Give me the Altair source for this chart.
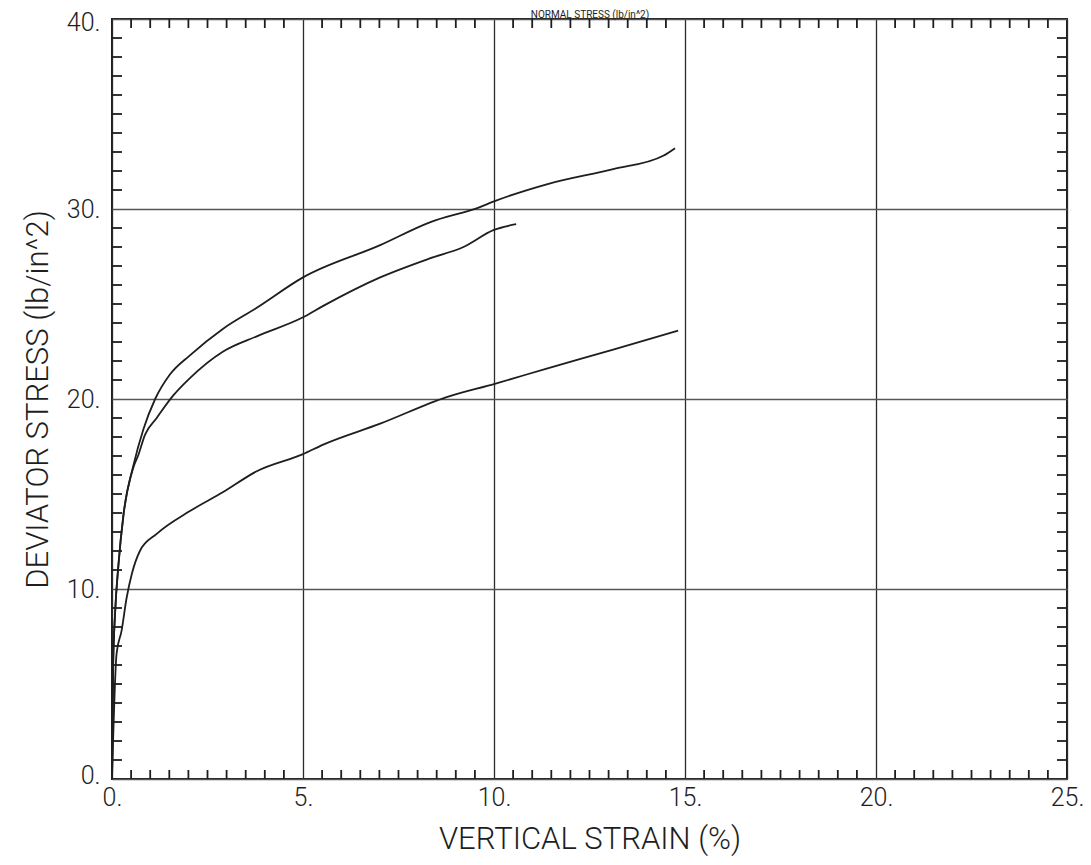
import altair as alt
import pandas as pd

# ---- data ----
upper_x = [0.0, 0.03, 0.08, 0.17, 0.30, 0.56, 0.82, 1.13, 1.52, 2.04, 2.91, 3.79, 5.0, 7.02, 8.32, 9.63, 10.0, 11.38, 13.12, 14.43, 14.74]
upper_y = [0.0, 6.0, 8.7, 11.3, 13.9, 16.5, 18.4, 20.0, 21.3, 22.3, 23.7, 24.8, 26.4, 28.1, 29.3, 30.1, 30.4, 31.3, 32.1, 32.8, 33.2]

middle_x = [0.0, 0.03, 0.08, 0.17, 0.30, 0.56, 0.69, 0.86, 1.17, 1.61, 2.04, 2.91, 3.79, 5.0, 5.53, 7.02, 8.32, 9.2, 10.0, 10.58]
middle_y = [0.0, 6.0, 8.7, 11.3, 13.9, 16.4, 17.05, 18.1, 19.0, 20.2, 21.1, 22.5, 23.3, 24.3, 24.9, 26.4, 27.4, 28.0, 28.9, 29.2]

lower_x = [0.0, 0.12, 0.25, 0.38, 0.52, 0.73, 1.17, 2.04, 2.91, 3.79, 5.0, 5.53, 7.02, 8.76, 10.02, 11.38, 13.12, 14.82]
lower_y = [0.0, 6.6, 7.8, 9.5, 10.8, 12.0, 12.9, 14.1, 15.1, 16.2, 17.1, 17.6, 18.7, 20.1, 20.8, 21.6, 22.6, 23.6]

x_major = [0, 5, 10, 15, 20, 25]
y_major = [0, 10, 20, 30, 40]
x_minor = [v / 2 for v in range(1, 50) if v % 10 != 0]
y_minor = [v for v in range(1, 40) if v % 10 != 0]

title_text = "NORMAL STRESS (lb/in^2)"
x_title = "VERTICAL STRAIN (%)"
y_title = "DEVIATOR STRESS (lb/in^2)"

FONT = "Roboto"
INK = "#1e1e1e"
W, H = 955, 760

curves = pd.concat([
    pd.DataFrame({"strain": upper_x, "stress": upper_y, "test": "A"}),
    pd.DataFrame({"strain": middle_x, "stress": middle_y, "test": "B"}),
    pd.DataFrame({"strain": lower_x, "stress": lower_y, "test": "C"}),
])

xs = alt.Scale(domain=[0, 25], nice=False, zero=False)
ys = alt.Scale(domain=[0, 40], nice=False, zero=False)

lines = alt.Chart(curves).mark_line(color=INK, strokeWidth=1.8, interpolate="monotone").encode(
    x=alt.X("strain:Q", scale=xs,
            axis=alt.Axis(values=x_major, labelExpr="datum.value + '.'", title=x_title,
                          grid=True, gridColor="#2a2a2a", gridWidth=1.3, ticks=False, domain=False,
                          labelPadding=6, titlePadding=14, labelFlush=False)),
    y=alt.Y("stress:Q", scale=ys,
            axis=alt.Axis(values=y_major, labelExpr="datum.value + '.'", title=y_title,
                          grid=True, gridColor="#555555", gridWidth=1.3, ticks=False, domain=False,
                          labelPadding=12, titlePadding=12, labelFlush=True, labelFlushOffset=9)),
    detail="test:N",
    order="strain:Q",
)

xminor_df = pd.DataFrame({"v": x_minor})
yminor_df = pd.DataFrame({"v": y_minor})

xt_bottom = alt.Chart(xminor_df).mark_rule(color=INK, strokeWidth=1.8).encode(
    x=alt.X("v:Q", scale=xs), y=alt.value(H), y2=alt.value(H - 9))
xt_top = alt.Chart(xminor_df).mark_rule(color=INK, strokeWidth=1.8).encode(
    x=alt.X("v:Q", scale=xs), y=alt.value(0), y2=alt.value(9))
yt_left = alt.Chart(yminor_df).mark_rule(color=INK, strokeWidth=1.8).encode(
    y=alt.Y("v:Q", scale=ys), x=alt.value(0), x2=alt.value(10))
yt_right = alt.Chart(yminor_df).mark_rule(color=INK, strokeWidth=1.8).encode(
    y=alt.Y("v:Q", scale=ys), x=alt.value(W), x2=alt.value(W - 10))

top_title = alt.Chart(pd.DataFrame({"t": [title_text]})).mark_text(
    font=FONT, fontSize=10, color=INK, baseline="alphabetic", align="center", clip=False
).encode(text="t:N", x=alt.value(478), y=alt.value(-1))

chart = alt.layer(lines, xt_bottom, xt_top, yt_left, yt_right, top_title).properties(
    width=W, height=H,
    autosize=alt.AutoSizeParams(type="none"),
    padding={"left": 104, "top": 11, "right": 16, "bottom": 78},
).configure(background="white").configure_view(stroke=INK, strokeWidth=2).configure_axis(
    labelFont=FONT, labelFontSize=25, labelColor=INK, labelFontWeight=300,
    titleFont=FONT, titleFontSize=31, titleFontWeight=300, titleColor=INK,
)

chart.save("out.html", embed_options={"renderer": "svg", "actions": False})
